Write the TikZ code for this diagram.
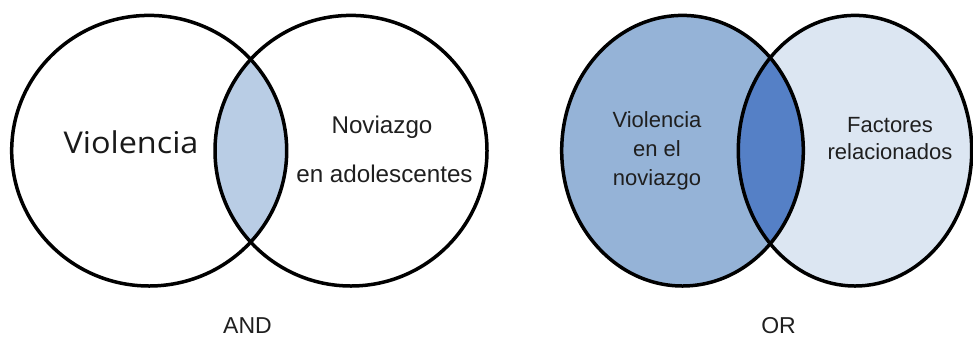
\documentclass[tikz,border=0pt]{standalone}
\usepackage{fontspec}
\setmainfont{Liberation Sans}
\newfontfamily\vfont[FakeStretch=1.08]{Open Sans}
\definecolor{lensA}{HTML}{B9CDE5}
\definecolor{setB}{HTML}{95B3D7}
\definecolor{lensB}{HTML}{5580C6}
\definecolor{setC}{HTML}{DCE6F2}
\begin{document}
\begin{tikzpicture}[x=1pt,y=-1pt,
  ring/.style={draw=black,line width=3.5pt},
  lbl/.style={anchor=base,inner sep=0pt,font=\fontsize{24.2}{26}\selectfont,text=black!88},
  lblr/.style={anchor=base,inner sep=0pt,font=\fontsize{22}{24}\selectfont,text=black!88},
  op/.style={anchor=base,inner sep=0pt,font=\fontsize{23}{24}\selectfont,text=black!88}]
\useasboundingbox (0,0) rectangle (973,338);
% AND diagram
\begin{scope}
  \clip (149.2,150.7) ellipse [x radius=137.5, y radius=135.3];
  \fill[lensA] (351,150.7) ellipse [x radius=136, y radius=135.3];
\end{scope}
\draw[ring] (149.2,150.7) ellipse [x radius=137.5, y radius=135.3];
\draw[ring] (351,150.7) ellipse [x radius=136, y radius=135.3];
% OR diagram
\fill[setB] (682.5,150.7) ellipse [x radius=120.8, y radius=135.3];
\fill[setC] (855,150.7) ellipse [x radius=116.7, y radius=135.3];
\begin{scope}
  \clip (682.5,150.7) ellipse [x radius=120.8, y radius=135.3];
  \fill[lensB] (855,150.7) ellipse [x radius=116.7, y radius=135.3];
\end{scope}
\draw[ring] (682.5,150.7) ellipse [x radius=120.8, y radius=135.3];
\draw[ring] (855,150.7) ellipse [x radius=116.7, y radius=135.3];
% texts
\node[anchor=base,inner sep=0pt,font=\vfont\fontsize{30}{32}\selectfont,text=black!90] (violA) at (131,153.5) {Violencia};
\node[lbl] (novA) at (382,133) {Noviazgo};
\node[lbl] (adoA) at (384.5,182) {en adolescentes};
\node[op] (and) at (247.5,333.5) {AND};
\node[lblr] (v1) at (657,127) {Violencia};
\node[lblr] (v2) at (657,156.5) {en el};
\node[lblr] (v3) at (657,185) {noviazgo};
\node[lblr] (f1) at (890,132) {Factores};
\node[lblr] (f2) at (890,159.5) {relacionados};
\node[op] (or) at (778.5,333.5) {OR};
\end{tikzpicture}
\end{document}
